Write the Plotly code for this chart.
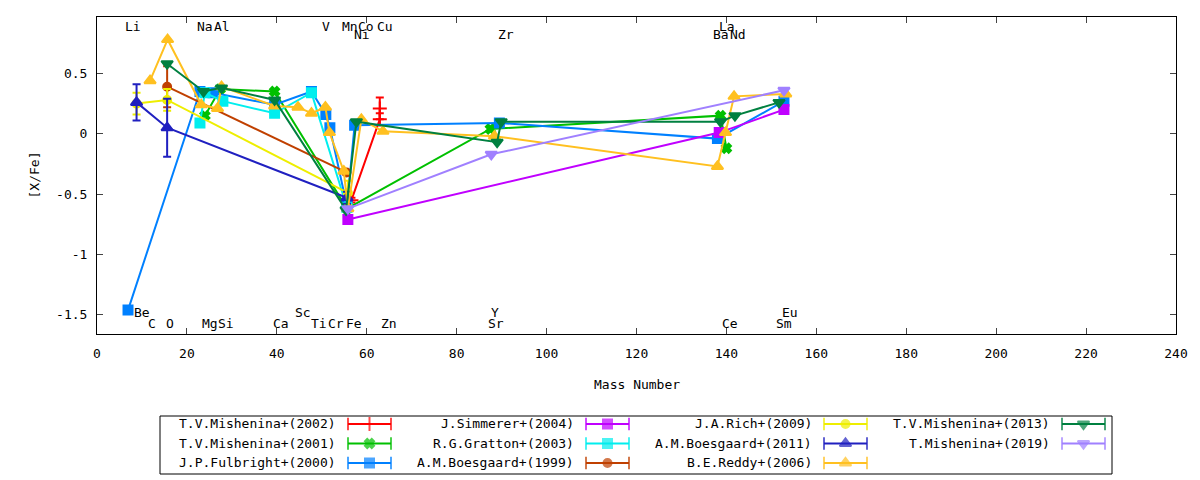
import plotly.graph_objects as go

# ---- element labels (text, mass position, label height) ----
top_elems = ["Li", "Na", "Al", "V", "Mn", "Co", "Cu", "La"]
top_x = [8.1, 24.0, 27.9, 51.0, 56.2, 59.9, 64.1, 140.2]
top2_elems = ["Ni", "Zr", "Ba", "Nd"]
top2_x = [59.0, 90.9, 138.9, 142.6]
bot2_elems = ["Be", "Sc", "Y", "Eu"]
bot2_x = [9.9, 45.8, 88.6, 154.1]
bot_elems = ["C", "O", "Mg", "Si", "Ca", "Ti", "Cr", "Fe", "Zn", "Sr", "Ce", "Sm"]
bot_x = [12.2, 16.2, 25.1, 28.8, 40.9, 49.3, 53.1, 57.1, 65.0, 88.8, 140.9, 152.8]

# ---- series: mass number, [X/Fe], error ----
mish2002_x = [56.6, 62.9, 62.9]
mish2002_y = [-0.55, 0.12, 0.21]
mish2002_e = [0.02, 0.05, 0.09]

mish2001_x = [24.0, 27.4, 39.5, 55.6, 87.5, 138.7, 140.0]
mish2001_y = [0.15, 0.37, 0.35, -0.62, 0.04, 0.15, -0.12]

fulb2000_x = [6.9, 22.9, 25.8, 39.5, 47.7, 50.9, 51.8, 55.6, 57.3, 89.5, 138.0, 152.8]
fulb2000_y = [-1.46, 0.35, 0.34, 0.24, 0.35, 0.16, 0.05, -0.60, 0.07, 0.09, -0.04, 0.27]

simm2004_x = [55.8, 138.4, 152.8]
simm2004_y = [-0.71, 0.01, 0.20]

grat2003_x = [22.9, 24.0, 28.0, 39.5, 47.7, 55.6]
grat2003_y = [0.09, 0.34, 0.27, 0.17, 0.34, -0.61]

boes1999_x = [15.6, 55.5]
boes1999_y = [0.39, -0.32]
boes1999_e = [0.17, 0.02]

rich2009_x = [8.8, 15.6, 55.8]
rich2009_y = [0.25, 0.28, -0.49]
rich2009_e = [0.09, 0.09, 0.10]

boes2011_x = [8.8, 15.6, 55.6]
boes2011_y = [0.26, 0.05, -0.53]
boes2011_e = [0.15, 0.24, 0.05]

redd2006_x = [11.8, 15.7, 23.2, 26.8, 27.7, 39.5, 44.7, 47.7, 50.8, 51.7, 54.9, 55.8,
              58.8, 63.6, 88.4, 138.0, 139.8, 141.7, 153.2]
redd2006_y = [0.44, 0.78, 0.24, 0.21, 0.39, 0.23, 0.22, 0.17, 0.22, 0.01, -0.31, -0.62,
              0.12, 0.02, -0.02, -0.27, 0.01, 0.31, 0.33]

mish2013_x = [15.6, 23.7, 27.7, 39.5, 55.4, 57.7, 89.0, 89.9, 138.7, 141.9, 151.7]
mish2013_y = [0.58, 0.35, 0.38, 0.28, -0.63, 0.10, -0.07, 0.10, 0.10, 0.15, 0.26]

mish2019_x = [55.8, 87.7, 152.8]
mish2019_y = [-0.62, -0.17, 0.36]

series = [
    ("T.V.Mishenina+(2002)", mish2002_x, mish2002_y, mish2002_e, "#ff0000", "cross-thin", 10),
    ("T.V.Mishenina+(2001)", mish2001_x, mish2001_y, None, "#00c000", "x", 8),
    ("J.P.Fulbright+(2000)", fulb2000_x, fulb2000_y, None, "#0080ff", "square", 9),
    ("J.Simmerer+(2004)", simm2004_x, simm2004_y, None, "#c000ff", "square", 9),
    ("R.G.Gratton+(2003)", grat2003_x, grat2003_y, None, "#00eeee", "square", 9),
    ("A.M.Boesgaard+(1999)", boes1999_x, boes1999_y, boes1999_e, "#c04000", "circle", 8),
    ("J.A.Rich+(2009)", rich2009_x, rich2009_y, rich2009_e, "#eeee00", "circle", 8),
    ("A.M.Boesgaard+(2011)", boes2011_x, boes2011_y, boes2011_e, "#2020c0", "triangle-up", 10),
    ("B.E.Reddy+(2006)", redd2006_x, redd2006_y, None, "#ffc020", "triangle-up", 10),
    ("T.V.Mishenina+(2013)", mish2013_x, mish2013_y, None, "#008040", "triangle-down", 10),
    ("T.Mishenina+(2019)", mish2019_x, mish2019_y, None, "#a080ff", "triangle-down", 10),
]

FONT = "DejaVu Sans Mono"
W, H = 1200, 480
ML, MR, MT = 97, 24, 17
plot_h = H - MT

fig = go.Figure()

for name, xs, ys, es, color, sym, size in series:
    err = dict(type="data", array=es, color=color, thickness=2, width=4, visible=True) if es else None
    fig.add_trace(go.Scatter(
        x=xs, y=ys, mode="lines+markers", name=name, showlegend=False,
        line=dict(color=color, width=2),
        marker=dict(symbol=sym, size=size, color=color, line=dict(color=color, width=2)),
        error_y=err,
    ))

# element labels
for names, xs, yv in [(top_elems, top_x, 0.892), (top2_elems, top2_x, 0.818),
                      (bot2_elems, bot2_x, -1.479), (bot_elems, bot_x, -1.575)]:
    for n, xv in zip(names, xs):
        fig.add_annotation(x=xv, y=yv, xref="x", yref="y", text=n, showarrow=False,
                           font=dict(family=FONT, size=13, color="black"))

# gnuplot-like key drawn on an overlay axis in pixel units
for i, (name, xs, ys, es, color, sym, size) in enumerate(series):
    col, row = divmod(i, 3)
    yk = 424 + row * 19.5
    fig.add_annotation(x=338 + 238 * col, y=yk, xref="x2", yref="y2", text=name,
                       showarrow=False, xanchor="right",
                       font=dict(family=FONT, size=13, color="black"))
    x0, x1 = 348 + 238 * col, 391 + 238 * col
    fig.add_trace(go.Scatter(
        x=[x0, (x0 + x1) / 2, x1], y=[yk] * 3, mode="lines+markers", showlegend=False,
        xaxis="x2", yaxis="y2", hoverinfo="skip",
        line=dict(color=color, width=2),
        marker=dict(symbol=["line-ns", sym, "line-ns"], size=[9, size, 9], color=color,
                    line=dict(color=color, width=2)),
    ))

fig.add_shape(type="rect", xref="x2", yref="y2", x0=160, x1=1112, y0=416, y1=474,
              line=dict(color="black", width=1))

ydom0 = (H - 334) / plot_h
fig.update_layout(
    width=W, height=H,
    margin=dict(l=ML, r=MR, t=MT, b=0),
    plot_bgcolor="white", paper_bgcolor="white",
    font=dict(family=FONT, size=13, color="black"),
    xaxis=dict(range=[0, 240], dtick=20, ticks="inside", ticklen=6, mirror="allticks",
               showline=True, linecolor="black", linewidth=1, showgrid=False, zeroline=False,
               ticklabelstandoff=7),
    yaxis=dict(domain=[ydom0, 1], range=[-1.658, 0.967],
               tickvals=[-1.5, -1, -0.5, 0, 0.5], ticktext=["-1.5", "-1", "-0.5", "0", "0.5"],
               ticks="inside", ticklen=6, mirror="allticks", showline=True, linecolor="black",
               linewidth=1, showgrid=False, zeroline=False, ticklabelstandoff=6),
    xaxis2=dict(domain=[0, 1], range=[ML, W - MR], anchor="y2", visible=False, fixedrange=True),
    yaxis2=dict(domain=[0, 0.17], range=[H, H - 0.17 * plot_h], anchor="x2", visible=False,
                fixedrange=True),
)

fig.add_annotation(x=0.5, y=(H - 394) / plot_h, xref="paper", yref="paper", text="Mass Number",
                   showarrow=False, font=dict(family=FONT, size=13, color="black"))
fig.add_annotation(x=(24 - ML) / (W - ML - MR), y=(H - 175) / plot_h, xref="paper", yref="paper",
                   text="[X/Fe]", textangle=-90, showarrow=False,
                   font=dict(family=FONT, size=13, color="black"))

fig.write_html("out.html", config={"displayModeBar": False},
               post_script="document.body.style.margin='0';")
